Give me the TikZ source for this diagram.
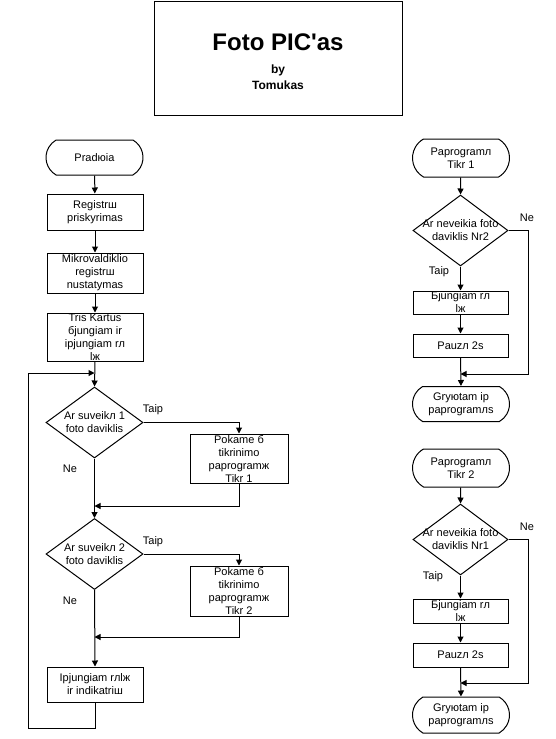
\documentclass[tikz,border=0pt]{standalone}
\usepackage{fontspec}
\setmainfont{Liberation Sans}
\newfontfamily\titlefont{Liberation Sans}[Ligatures=TeXOff]
\usetikzlibrary{shapes.geometric,shapes.misc,arrows.meta}
\tikzset{
  every node/.style={font=\fontsize{11}{13}\selectfont, inner sep=0pt, align=center},
  ln/.style={line width=1pt, draw=black},
  arr/.style={ln, -{Triangle[length=6pt,width=6pt]}},
  boxl/.style={rectangle, ln, minimum width=96pt},
  term/.style={rounded rectangle, rounded rectangle arc length=120, ln, minimum width=97pt},
  dia/.style={diamond, ln, minimum width=97pt, minimum height=71pt},
  lbl/.style={font=\fontsize{11}{13}\selectfont}
}
\begin{document}
\begin{tikzpicture}[x=1pt,y=-1pt]
\useasboundingbox (0,0) rectangle (556,739);
% title
\node[rectangle, ln, minimum width=248pt, minimum height=114pt] (title) at (278,58.5) {};
\node[font=\titlefont\fontsize{24}{26}\bfseries\selectfont] (tt) at (278,42) {Foto PIC'as};
\node[font=\fontsize{12}{14}\bfseries\selectfont] (by) at (278,70) {by};
\node[font=\fontsize{12}{14}\bfseries\selectfont] (au) at (278,85) {Tomukas};

% left column
\node[term, minimum height=35pt] (start) at (94.5,157.5) {Pradюia};
\node[boxl, minimum height=36pt] (b1) at (95,212) {Registrш\\priskyrimas};
\node[boxl, minimum height=40pt] (b2) at (95,273) {Mikrovaldiklio\\registrш\\nustatymas};
\node[boxl, minimum height=48pt] (b3) at (95,337) {Tris Kartus\\бjungiam ir\\iрjungiam rл\\lж};
\node[dia, label={[align=center]center:Ar suveikл 1\\foto daviklis}] (d1) at (94.5,422.5) {};
\node[boxl, minimum width=98pt, minimum height=49pt] (p1) at (239,458.5) {Рokame б\\tikrinimo\\paprogramж\\Tikr 1};
\node[dia, label={[align=center]center:Ar suveikл 2\\foto daviklis}] (d2) at (94.5,554) {};
\node[boxl, minimum width=98pt, minimum height=50pt] (p2) at (239,591) {Рokame б\\tikrinimo\\paprogramж\\Tikr 2};
\node[boxl, minimum height=35pt] (fin) at (95,684.5) {Iрjungiam rлlж\\ir indikatriш};

\coordinate (j0) at (94.5,373);
\coordinate (j1) at (94.5,506);
\coordinate (j2) at (94.5,637);
\coordinate (lb) at (28,728);

\draw[arr] (start) -- (b1);
\draw[arr] (b1) -- (b2);
\draw[arr] (b2) -- (b3);
\draw[arr] (b3.south) -- (d1.north);
\draw[arr] (fin.south) |- (lb) |- (j0);
\draw[arr] (d1.east) -| (p1.north);
\draw[arr] (p1.south) |- (j1);
\draw[arr] (d1.south) -- (d2.north);
\draw[arr] (d2.east) -| (p2.north);
\draw[arr] (p2.south) |- (j2);
\draw[arr] (d2.south) -- (fin.north);
\node[lbl] (t1) at (153,410) {Taip};
\node[lbl] (n1) at (70,469) {Ne};
\node[lbl] (t2) at (153,542) {Taip};
\node[lbl] (n2) at (70,601) {Ne};

% right column, subroutine 1
\node[term, minimum height=38pt] (s1) at (461,158) {Paprogramл\\Tikr 1};
\node[dia, minimum width=95pt, label={[align=center]center:Ar neveikia foto\\daviklis Nr2}] (sd1) at (460.5,230.5) {};
\node[boxl, minimum width=95pt, minimum height=23pt] (sb1) at (460.5,302.5) {Бjungiam rл\\lж};
\node[boxl, minimum width=95pt, minimum height=23pt] (sp1) at (460.5,345.5) {Pauzл 2s};
\node[term, minimum height=35pt] (sr1) at (461,404) {Gryюtam iр\\paprogramлs};
\coordinate (m1) at (460.5,374);
\coordinate (c1) at (528,374);
\draw[arr] (s1) -- (sd1.north);
\draw[arr] (sd1.south) -- (sb1.north);
\draw[arr] (sb1) -- (sp1);
\draw[arr] (sp1.south) -- (sr1.north);
\draw[arr] (sd1.east) -| (c1) -- (m1);
\node[lbl] (n3) at (527,218) {Ne};
\node[lbl] (t3) at (439,272) {Taip};

% right column, subroutine 2
\node[term, minimum height=38pt] (s2) at (461,468) {Paprogramл\\Tikr 2};
\node[dia, minimum width=95pt, label={[align=center]center:Ar neveikia foto\\daviklis Nr1}] (sd2) at (460.5,539.5) {};
\node[boxl, minimum width=95pt, minimum height=24pt] (sb2) at (460.5,611) {Бjungiam rл\\lж};
\node[boxl, minimum width=95pt, minimum height=24pt] (sp2) at (460.5,655) {Pauzл 2s};
\node[term, minimum height=36pt] (sr2) at (461,715) {Gryюtam iр\\paprogramлs};
\coordinate (m2) at (460.5,683);
\coordinate (c2) at (528,683);
\draw[arr] (s2) -- (sd2.north);
\draw[arr] (sd2.south) -- (sb2.north);
\draw[arr] (sb2) -- (sp2);
\draw[arr] (sp2.south) -- (sr2.north);
\draw[arr] (sd2.east) -| (c2) -- (m2);
\node[lbl] (n4) at (527,527) {Ne};
\node[lbl] (t4) at (433,577) {Taip};
\end{tikzpicture}
\end{document}
